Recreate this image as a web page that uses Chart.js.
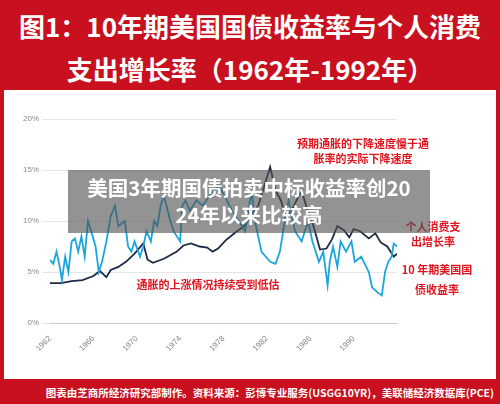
<!DOCTYPE html><html><head><meta charset="utf-8">
<script src="https://cdn.jsdelivr.net/npm/chart.js@4"></script>
<style>
body{margin:0;width:500px;height:404px;background:#c8101e;position:relative;overflow:hidden;font-family:"Noto Sans CJK SC",sans-serif}
#panel{position:absolute;left:4px;top:90px;width:492px;height:289px;background:#fff}
.t{position:absolute;color:#fff;font-weight:bold;white-space:nowrap}
.a{position:absolute;color:#e0141e;font-weight:bold;font-size:11px;white-space:nowrap;transform:translateX(-50%)}
canvas{position:absolute;left:0;top:0}
#banner{position:absolute;left:68px;top:170px;width:362px;height:63px;background:rgba(80,80,80,0.62);color:#fff;font-weight:bold;font-size:20.5px;line-height:27px;text-align:center;padding-top:4px;box-sizing:border-box}
</style></head><body>
<div class="t" style="left:0;width:500px;text-align:center;top:7px;font-size:26px">图1：10年期美国国债收益率与个人消费</div>
<div class="t" style="left:0;width:500px;text-align:center;top:50px;font-size:26px">支出增长率（1962年-1992年）</div>
<div id="panel"></div>
<div class="t" style="right:6px;top:385px;font-size:10.5px">图表由芝商所经济研究部制作。资料来源：彭博专业服务(USGG10YR)，美联储经济数据库(PCE)</div>
<canvas id="c" width="500" height="404"></canvas>
<div class="a" style="left:363px;top:135px">预期通胀的下降速度慢于通</div>
<div class="a" style="left:363px;top:150px">胀率的实际下降速度</div>
<div class="a" style="left:433px;top:218px">个人消费支</div>
<div class="a" style="left:433px;top:233px">出增长率</div>
<div class="a" style="left:437px;top:261px">10 年期美国国</div>
<div class="a" style="left:437px;top:281px">债收益率</div>
<div class="a" style="left:208px;top:276px">通胀的上涨情况持续受到低估</div>
<div id="banner">美国3年期国债拍卖中标收益率创20<br>24年以来比较高</div>
<script>
const yieldYears=[1962,1963,1964,1965,1966,1966.6,1967.2,1967.6,1968.3,1969,1969.8,1970.6,1971,1971.5,1972,1972.5,1973,1973.7,1974.3,1975,1975.8,1976.5,1977,1977.5,1978.2,1979,1979.5,1980,1980.5,1981.2,1982.3,1982.8,1983.3,1983.8,1984.5,1985.2,1985.7,1986.3,1986.9,1987.5,1988,1988.5,1989.1,1989.6,1990,1990.6,1991.4,1992,1992.5,1993.1,1993.4,1993.7,1994];
const yieldVals=[3.9,3.9,4.1,4.2,4.6,5.1,4.5,5.2,5.5,6.0,6.8,7.8,6.2,5.9,6.1,6.3,6.6,7.0,7.6,7.8,7.5,7.4,7.0,7.3,8.1,8.8,9.2,9.6,10.5,11.5,15.3,13.0,12.0,10.2,11.5,13.0,11.2,9.5,7.2,7.3,8.2,9.5,9.1,8.4,9.2,9.0,8.3,8.8,7.9,7.5,7.0,6.5,6.8];
const pceYears=[1962,1962.3,1962.6,1962.9,1963.1,1963.4,1963.7,1964,1964.3,1964.6,1964.9,1965.2,1965.5,1965.8,1966.2,1966.5,1966.8,1967.2,1967.6,1968,1968.3,1968.9,1969.2,1969.5,1969.8,1970.3,1970.6,1970.9,1971.3,1971.6,1971.9,1972.2,1972.5,1973.1,1973.4,1974,1974.2,1974.5,1974.9,1975.5,1976.1,1976.7,1977.6,1978.8,1980,1980.6,1980.9,1981.5,1982.3,1982.8,1983.2,1983.8,1984,1984.6,1985.2,1985.8,1986.2,1986.8,1987.2,1987.6,1987.8,1988.1,1988.5,1988.8,1989.3,1989.8,1990.1,1990.7,1991.4,1991.7,1992.2,1992.6,1992.9,1993.2,1993.5,1993.7,1994];
const pceVals=[6.2,5.8,7.0,5.5,4.2,6.5,5.0,8.0,8.3,7.0,8.5,6.5,10.0,9.0,7.5,5.0,6.0,8.0,10.5,11.5,9.5,10.0,7.5,7.0,8.0,6.5,7.5,9.0,8.0,10.0,9.5,11.5,12.5,10.0,9.0,8.0,11.5,12.0,11.0,12.0,11.5,12.5,13.5,11.0,9.0,13.0,10.0,7.0,6.0,5.8,7.0,11.0,12.0,9.0,8.0,10.0,8.0,6.0,7.0,3.7,6.0,7.5,5.5,8.0,7.0,8.0,6.0,6.5,5.0,3.5,3.0,2.7,5.0,6.0,6.5,7.8,7.5];
const yTicks=[0,5,10,15,20];
const xTicks=[1962,1966,1970,1974,1978,1982,1986,1990];
const pts=(xs,ys)=>xs.map((x,i)=>({x,y:ys[i]}));
new Chart(document.getElementById('c'),{type:'line',
data:{datasets:[
{data:pts(pceYears,pceVals),borderColor:'#1aa6dc',borderWidth:1.8,pointRadius:0,tension:0},
{data:pts(yieldYears,yieldVals),borderColor:'#1b2a45',borderWidth:1.8,pointRadius:0,tension:0}]},
options:{responsive:false,animation:false,layout:{padding:{top:119,right:103,left:0,bottom:0}},
plugins:{legend:{display:false},tooltip:{enabled:false}},
scales:{
x:{type:'linear',min:1962,max:1994,afterFit:s=>{s.height=81},afterBuildTicks:s=>{s.ticks=xTicks.map(v=>({value:v}))},
ticks:{color:'#888',font:{size:8},minRotation:45,maxRotation:45,callback:v=>String(v)},grid:{display:false},border:{color:'#ccc'}},
y:{min:0,max:20,afterFit:s=>{s.width=50},afterBuildTicks:s=>{s.ticks=yTicks.map(v=>({value:v}))},
ticks:{color:'#888',font:{size:8},callback:v=>v+'%'},grid:{color:'#e6e6e6'},border:{display:false}}}}});
</script></body></html>
